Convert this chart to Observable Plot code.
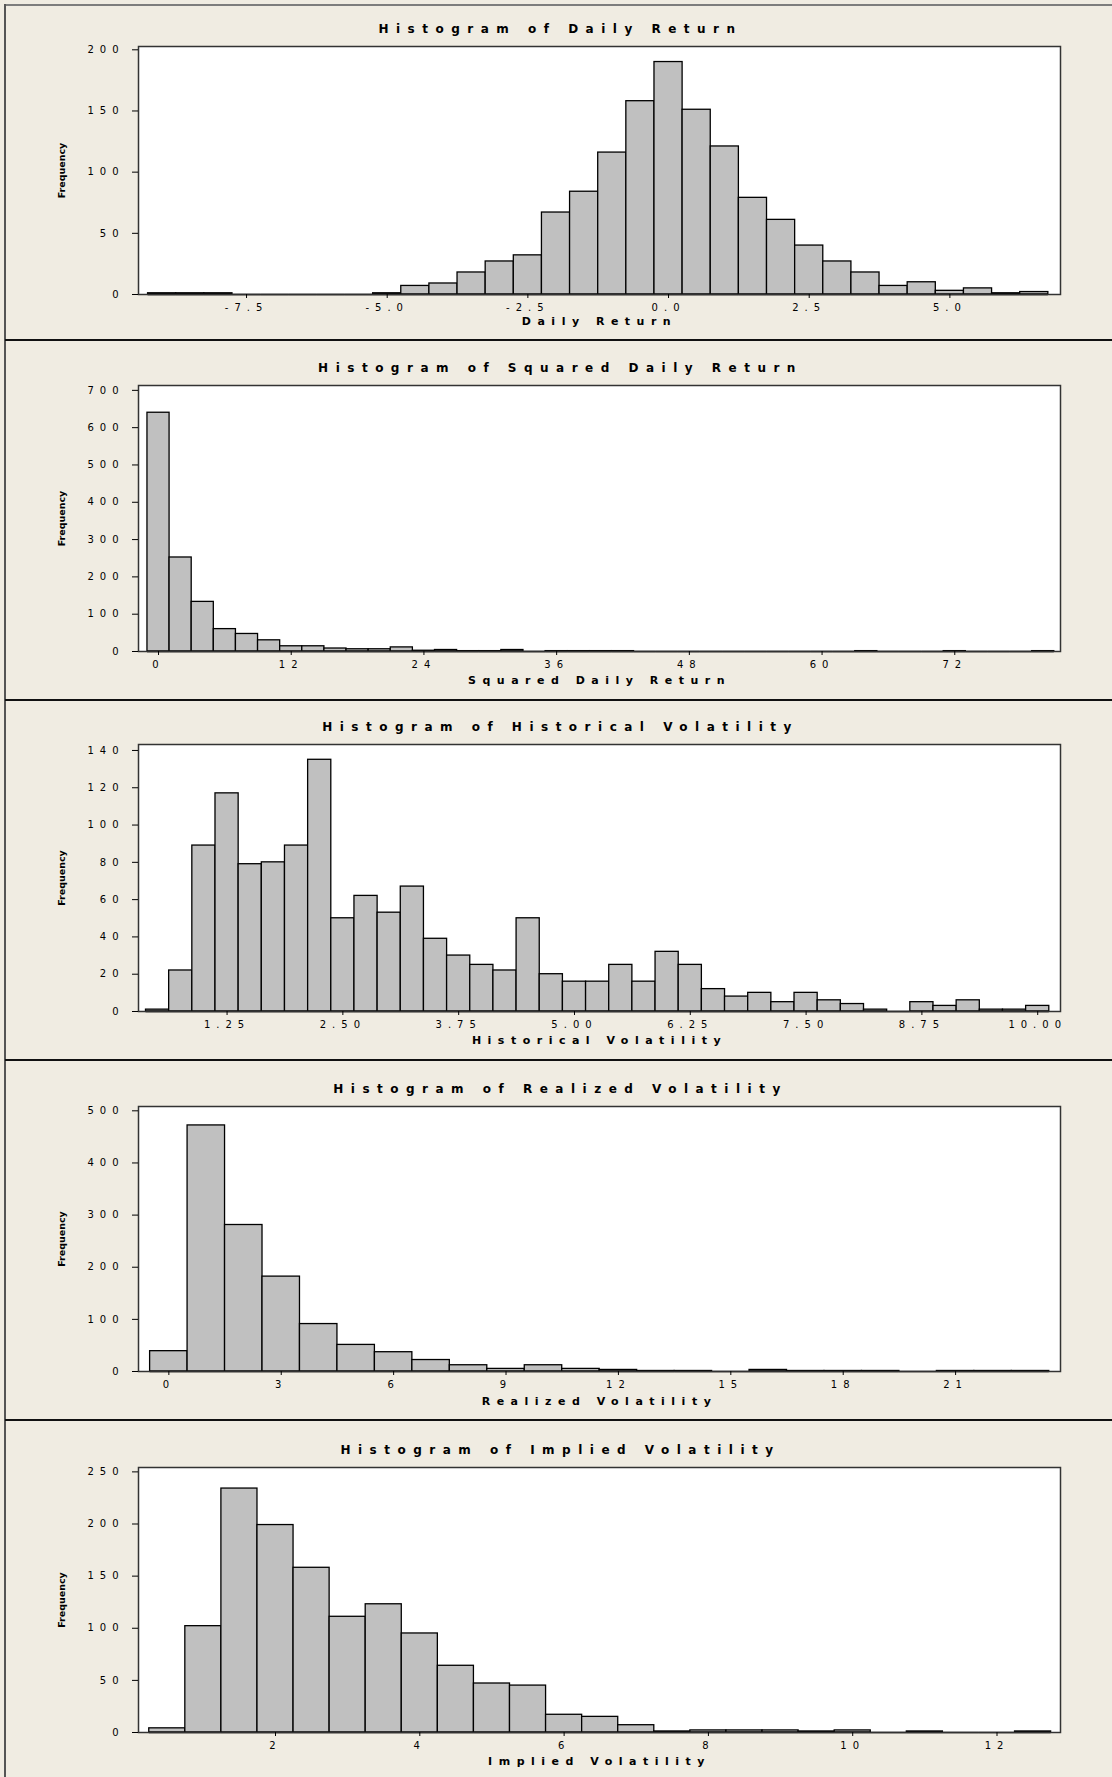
<!DOCTYPE html>
<html>
<head>
<meta charset="utf-8">
<script src="https://cdn.jsdelivr.net/npm/d3@7"></script>
<script src="https://cdn.jsdelivr.net/npm/@observablehq/plot@0.6"></script>
<style>
  html, body { margin: 0; padding: 0; background: #f0ece2; overflow: hidden; }
  #wrap { position: relative; width: 1112px; height: 1777px; background: #f0ece2; font-family: "DejaVu Sans", Verdana, sans-serif; }
  .panel { position: absolute; left: 0; }
  .sep { position: absolute; left: 5px; right: 0; height: 2px; background: #111; }
  #topborder { position: absolute; left: 5px; right: 0; top: 4px; height: 2px; background: #7d7d7d; }
  #leftborder { position: absolute; left: 4px; top: 4px; bottom: 0; width: 2px; background: #555; }
  svg [aria-label="x-axis tick label"] text,
  svg [aria-label="y-axis tick label"] text { letter-spacing: 6px; }
</style>
</head>
<body>
<div id="wrap">
  <div id="topborder"></div>
  <div id="leftborder"></div>
</div>
<script>
// ---------- data ----------
const titles = [
  "Histogram of Daily Return",
  "Histogram of Squared Daily Return",
  "Histogram of Historical Volatility",
  "Histogram of Realized Volatility",
  "Histogram of Implied Volatility"
];
const xLabels = ["Daily Return", "Squared Daily Return", "Historical Volatility", "Realized Volatility", "Implied Volatility"];
const yLabel = "Frequency";

// Daily Return: bin centers (width 0.5) and counts
const dailyReturnCenters = [-9, -8.5, -8, -7.5, -7, -6.5, -6, -5.5, -5, -4.5, -4, -3.5, -3, -2.5, -2, -1.5, -1, -0.5, 0, 0.5, 1, 1.5, 2, 2.5, 3, 3.5, 4, 4.5, 5, 5.5, 6, 6.5];
const dailyReturnCounts  = [1, 1, 1, 0, 0, 0, 0, 0, 1, 7, 9, 18, 27, 32, 67, 84, 116, 158, 190, 151, 121, 79, 61, 40, 27, 18, 7, 10, 3, 5, 1, 2];
const dailyReturnBinWidth = 0.5;
const dailyReturnXTicks = [-7.5, -5, -2.5, 0, 2.5, 5];
const dailyReturnYTicks = [0, 50, 100, 150, 200];

// Squared Daily Return: bin centers (width 2)
const squaredCenters = [0, 2, 4, 6, 8, 10, 12, 14, 16, 18, 20, 22, 24, 26, 28, 30, 32, 34, 36, 38, 40, 42, 44, 46, 48, 50, 52, 54, 56, 58, 60, 62, 64, 66, 68, 70, 72, 74, 76, 78, 80];
const squaredCounts  = [640, 252, 133, 60, 47, 30, 14, 14, 8, 6, 6, 11, 2, 4, 1, 1, 4, 0, 1, 1, 1, 1, 0, 0, 0, 0, 0, 0, 0, 0, 0, 0, 1, 0, 0, 0, 1, 0, 0, 0, 1];
const squaredBinWidth = 2;
const squaredXTicks = [0, 12, 24, 36, 48, 60, 72];
const squaredYTicks = [0, 100, 200, 300, 400, 500, 600, 700];

// Historical Volatility: bin centers (width 0.25)
const histVolCenters = [0.5, 0.75, 1, 1.25, 1.5, 1.75, 2, 2.25, 2.5, 2.75, 3, 3.25, 3.5, 3.75, 4, 4.25, 4.5, 4.75, 5, 5.25, 5.5, 5.75, 6, 6.25, 6.5, 6.75, 7, 7.25, 7.5, 7.75, 8, 8.25, 8.5, 8.75, 9, 9.25, 9.5, 9.75, 10];
const histVolCounts  = [1, 22, 89, 117, 79, 80, 89, 135, 50, 62, 53, 67, 39, 30, 25, 22, 50, 20, 16, 16, 25, 16, 32, 25, 12, 8, 10, 5, 10, 6, 4, 1, 0, 5, 3, 6, 1, 1, 3];
const histVolBinWidth = 0.25;
const histVolXTicks = [1.25, 2.5, 3.75, 5, 6.25, 7.5, 8.75, 10];
const histVolYTicks = [0, 20, 40, 60, 80, 100, 120, 140];

// Realized Volatility: bin centers (width 1)
const realVolCenters = [0, 1, 2, 3, 4, 5, 6, 7, 8, 9, 10, 11, 12, 13, 14, 15, 16, 17, 18, 19, 20, 21, 22, 23];
const realVolCounts  = [39, 472, 281, 182, 91, 51, 37, 22, 12, 5, 12, 5, 3, 1, 1, 0, 3, 1, 1, 1, 0, 1, 1, 1];
const realVolBinWidth = 1;
const realVolXTicks = [0, 3, 6, 9, 12, 15, 18, 21];
const realVolYTicks = [0, 100, 200, 300, 400, 500];

// Implied Volatility: bin centers (width 0.5)
const implVolCenters = [0.5, 1, 1.5, 2, 2.5, 3, 3.5, 4, 4.5, 5, 5.5, 6, 6.5, 7, 7.5, 8, 8.5, 9, 9.5, 10, 10.5, 11, 11.5, 12, 12.5];
const implVolCounts  = [4, 102, 234, 199, 158, 111, 123, 95, 64, 47, 45, 17, 15, 7, 1, 2, 2, 2, 1, 2, 0, 1, 0, 0, 1];
const implVolBinWidth = 0.5;
const implVolXTicks = [2, 4, 6, 8, 10, 12];
const implVolYTicks = [0, 50, 100, 150, 200, 250];

// ---------- layout ----------
const fmt0 = d => String(d);
const fmt1 = d => d.toFixed(1);
const fmt2 = d => d.toFixed(2);

const panels = [
  {title: titles[0], xlabel: xLabels[0], centers: dailyReturnCenters, counts: dailyReturnCounts, w: dailyReturnBinWidth,
   xDomain: [-9.42, 6.966], xTicks: dailyReturnXTicks, fmt: fmt1, yDomain: [0, 202.7], yTicks: dailyReturnYTicks,
   top: 0, height: 340, mt: 46, mb: 46, labelDy: 27},
  {title: titles[1], xlabel: xLabels[1], centers: squaredCenters, counts: squaredCounts, w: squaredBinWidth,
   xDomain: [-1.81, 81.56], xTicks: squaredXTicks, fmt: fmt0, yDomain: [0, 713], yTicks: squaredYTicks,
   top: 340, height: 360, mt: 45, mb: 49, labelDy: 29},
  {title: titles[2], xlabel: xLabels[2], centers: histVolCenters, counts: histVolCounts, w: histVolBinWidth,
   xDomain: [0.294, 10.246], xTicks: histVolXTicks, fmt: fmt2, yDomain: [0, 143.2], yTicks: histVolYTicks,
   top: 700, height: 360, mt: 44, mb: 49, labelDy: 29},
  {title: titles[3], xlabel: xLabels[3], centers: realVolCenters, counts: realVolCounts, w: realVolBinWidth,
   xDomain: [-0.81, 23.8], xTicks: realVolXTicks, fmt: fmt0, yDomain: [0, 508.3], yTicks: realVolYTicks,
   top: 1060, height: 360, mt: 46, mb: 49, labelDy: 30},
  {title: titles[4], xlabel: xLabels[4], centers: implVolCenters, counts: implVolCounts, w: implVolBinWidth,
   xDomain: [0.101, 12.88], xTicks: implVolXTicks, fmt: fmt0, yDomain: [0, 254.2], yTicks: implVolYTicks,
   top: 1420, height: 357, mt: 47, mb: 45, labelDy: 29}
];

const wrap = document.getElementById("wrap");

panels.forEach((p, i) => {
  const bins = p.centers.map((c, k) => ({c, n: p.counts[k]}));
  const half = p.w / 2;
  const chart = Plot.plot({
    width: 1112,
    height: p.height,
    marginLeft: 138,
    marginRight: 52,
    marginTop: p.mt,
    marginBottom: p.mb,
    style: {background: "transparent", fontFamily: "'DejaVu Sans', Verdana, sans-serif", fontSize: "10px", color: "#000", overflow: "visible"},
    x: {domain: p.xDomain},
    y: {domain: p.yDomain},
    marks: [
      Plot.frame({fill: "white", stroke: "none"}),
      Plot.rectY(bins, {x1: d => d.c - half, x2: d => d.c + half, y: "n", fill: "#c0c0c0", stroke: "#000", strokeWidth: 1.3}),
      Plot.ruleY(bins, {x1: d => d.c - half, x2: d => d.c + half, y: () => 0, stroke: "#000", strokeWidth: 1.6}),
      Plot.frame({stroke: "#333", strokeWidth: 1.5}),
      Plot.axisX({ticks: p.xTicks, tickFormat: p.fmt, tickSize: 4, tickPadding: 5, label: null, stroke: "#000"}),
      Plot.axisY({ticks: p.yTicks, tickSize: 6, tickPadding: 8, label: null, stroke: "#000"}),
      Plot.text([p.title], {frameAnchor: "top", dy: -17, dx: -39, textAnchor: "middle", fontWeight: "bold", fontSize: 12, lineAnchor: "middle", fill: "#000"}),
      Plot.text([p.xlabel], {frameAnchor: "bottom", dy: p.labelDy, textAnchor: "middle", fontWeight: "bold", fontSize: 11, lineAnchor: "middle", fill: "#000"}),
      Plot.text([yLabel], {frameAnchor: "left", dx: -77, rotate: -90, textAnchor: "middle", fontWeight: "bold", fontSize: 9.5, lineAnchor: "middle", fill: "#000"})
    ]
  });
  // letter-spacing styles for title and x-axis label
  d3.select(chart).selectAll("text").each(function() {
    const t = this.textContent;
    if (t === p.title) this.style.letterSpacing = "7.5px";
    else if (t === p.xlabel) this.style.letterSpacing = "6.5px";
  });
  const div = document.createElement("div");
  div.className = "panel";
  div.style.top = p.top + "px";
  div.appendChild(chart);
  wrap.appendChild(div);
  if (i > 0) {
    const s = document.createElement("div");
    s.className = "sep";
    s.style.top = (p.top - 1) + "px";
    wrap.appendChild(s);
  }
});
</script>
</body>
</html>
